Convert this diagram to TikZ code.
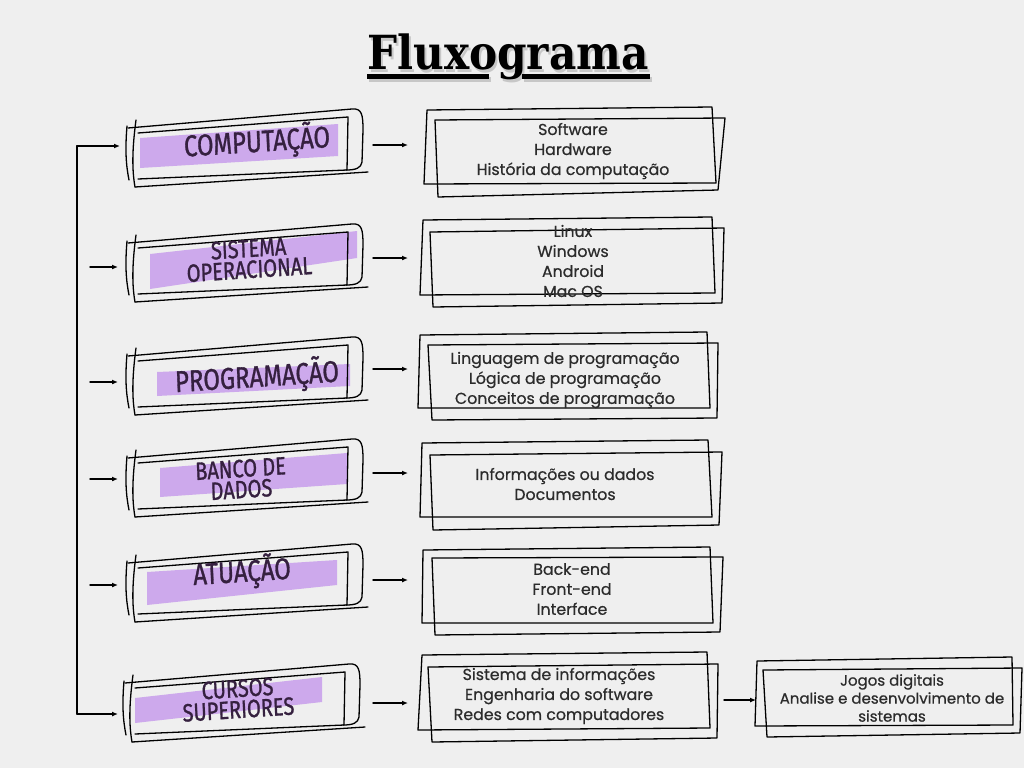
\documentclass[tikz,border=0pt]{standalone}
\usepackage{fontspec}
\setmainfont{Poppins}
\newfontfamily\itemfont{Poppins}[FakeBold=0.6]
\newfontfamily\titlefont{DejaVu Serif}
\newfontfamily\handfont{Fira Sans}[FakeBold=1.2]
\usetikzlibrary{arrows.meta}
\definecolor{bg}{HTML}{EFEFEF}
\definecolor{lav}{HTML}{CDA9EC}
\definecolor{ink}{HTML}{35203F}
\definecolor{txt}{HTML}{2B2B2B}
\tikzset{
  sk/.style={draw=black, line width=1.3pt},
  arr/.style={line width=1.4pt, -{Latex[length=6pt,width=5pt]}},
  lbl/.style={text=ink, font=\handfont\fontsize{30}{24}\selectfont, align=center, xscale=0.8, inner sep=0pt, rotate=3},
  lbltwo/.style={text=ink, font=\handfont\fontsize{25}{21}\selectfont, align=center, xscale=0.8, inner sep=0pt, rotate=3},
  itm/.style={text=txt, font=\itemfont\fontsize{15.8}{20}\selectfont, align=center, inner sep=0pt},
  itms/.style={text=txt, font=\itemfont\fontsize{15}{18}\selectfont, align=center, inner sep=0pt},
  holder/.style={minimum width=240pt, minimum height=70pt, inner sep=0pt},
  sketch/.pic={
    \draw[sk] (-120,-22) -- (104,-41) .. controls (114,-42) and (115,-35) .. (115,-20) -- (114,12) .. controls (113,18) and (108,20) .. (98,20);
    \draw[sk] (-110,-17) -- (100,-33) -- (99,20) -- (-110,29);
    \draw[sk] (-113,37) -- (120,22);
    \draw[sk] (-112,-30) .. controls (-116,0) and (-116,20) .. (-113,37);
    \draw[sk] (-121,-24) .. controls (-123,0) and (-122,15) .. (-119,30);
  }
}
\begin{document}
\begin{tikzpicture}[x=1pt,y=-1pt, line cap=round, line join=round]
\fill[bg] (0,0) rectangle (1024,768);
\useasboundingbox (0,0) rectangle (1024,768);

% title
\node[text=black!22, font=\titlefont\bfseries\fontsize{47}{47}\selectfont, xscale=0.9, anchor=base] (tshadow) at (510,72) {Fluxograma};
\fill[black!22] (369,77) rectangle (491,82);
\fill[black!22] (524,77) rectangle (652,82);
\node[text=black, font=\titlefont\bfseries\fontsize{47}{47}\selectfont, xscale=0.9, anchor=base] (title) at (508,70) {Fluxograma};
\fill[black] (367,74) rectangle (489,79);
\fill[black] (522,74) rectangle (650,79);

% left sketch boxes: highlights
\fill[lav] (140,138) -- (338,124) -- (338,156) -- (140,168) -- cycle;
\fill[lav] (150,254) -- (357,231) -- (357,258) -- (150,289) -- cycle;
\fill[lav] (157,372) -- (350,364) -- (350,386) -- (157,396) -- cycle;
\fill[lav] (160,468) -- (347,453) -- (347,484) -- (160,497) -- cycle;
\fill[lav] (147,572) -- (337,560) -- (337,585) -- (147,605) -- cycle;
\fill[lav] (135,698) -- (322,677) -- (322,702) -- (135,723) -- cycle;

\pic at (248,150) {sketch};
\pic at (248,265) {sketch};
\pic at (248,378) {sketch};
\pic at (248,480) {sketch};
\pic at (248,585) {sketch};
\pic at (245,705) {sketch};

\node[holder] (L1) at (248,150) {};
\node[holder] (L2) at (248,265) {};
\node[holder] (L3) at (248,378) {};
\node[holder] (L4) at (248,480) {};
\node[holder] (L5) at (248,585) {};
\node[holder] (L6) at (245,705) {};

\node[lbl] (t1) at (257,142) {COMPUTAÇÃO};
\node[lbltwo] (t2) at (249,259) {SISTEMA\\OPERACIONAL};
\node[lbl] (t3) at (257,377) {PROGRAMAÇÃO};
\node[lbltwo] (t4) at (241,479) {BANCO DE\\DADOS};
\node[lbl] (t5) at (242,572) {ATUAÇÃO};
\node[lbltwo] (t6) at (238,699) {CURSOS\\SUPERIORES};

% right boxes (double sketched frames)
\draw[sk] (427,110) -- (712,107) -- (716,183) -- (424,184) -- cycle;
\draw[sk] (435,120) -- (725,118) -- (718,190) -- (438,197) -- cycle;
\draw[sk] (423,220) -- (712,217) -- (715,293) -- (420,295) -- cycle;
\draw[sk] (430,232) -- (724,228) -- (722,303) -- (433,307) -- cycle;
\draw[sk] (420,335) -- (707,332) -- (710,408) -- (418,408) -- cycle;
\draw[sk] (428,345) -- (718,343) -- (717,418) -- (432,420) -- cycle;
\draw[sk] (422,443) -- (708,440) -- (712,517) -- (420,517) -- cycle;
\draw[sk] (430,455) -- (722,452) -- (719,525) -- (433,530) -- cycle;
\draw[sk] (423,550) -- (710,547) -- (713,623) -- (422,623) -- cycle;
\draw[sk] (432,558) -- (723,557) -- (720,632) -- (435,635) -- cycle;
\draw[sk] (422,655) -- (707,652) -- (710,728) -- (418,730) -- cycle;
\draw[sk] (428,667) -- (718,664) -- (717,738) -- (432,742) -- cycle;
\draw[sk] (757,661) -- (1012,657) -- (1013,725) -- (755,726) -- cycle;
\draw[sk] (763,670) -- (1022,668) -- (1020,733) -- (767,737) -- cycle;

\node[itm] (R1) at (573,151) {Software\\Hardware\\História da computação};
\node[itm] (R2) at (573,261) {Linux\\Windows\\Android\\Mac OS};
\node[itm] (R3) at (565,380) {Linguagem de programação\\Lógica de programação\\Conceitos de programação};
\node[itm] (R4) at (565,484) {Informações ou dados\\Documentos};
\node[itm] (R5) at (572,589) {Back-end\\Front-end\\Interface};
\node[itm] (R6) at (559,696) {Sistema de informações\\Engenharia do software\\Redes com computadores};
\node[itms] (R7) at (892,698) {Jogos digitais\\Analise e desenvolvimento de\\sistemas};

% connector endpoints
\coordinate (spineTop) at (77,146);
\coordinate (spineBot) at (77,714);
\coordinate (in1) at (120,146);
\coordinate (in6) at (118,714);
\coordinate (s2) at (90,267);  \coordinate (in2) at (118,267);
\coordinate (s3) at (90,382);  \coordinate (in3) at (118,382);
\coordinate (s4) at (90,479);  \coordinate (in4) at (118,479);
\coordinate (s5) at (90,585);  \coordinate (in5) at (118,585);
\coordinate (m1a) at (373,145); \coordinate (m1b) at (408,145);
\coordinate (m2a) at (373,258); \coordinate (m2b) at (408,258);
\coordinate (m3a) at (373,369); \coordinate (m3b) at (408,369);
\coordinate (m4a) at (373,473); \coordinate (m4b) at (408,473);
\coordinate (m5a) at (373,580); \coordinate (m5b) at (408,580);
\coordinate (m6a) at (373,703); \coordinate (m6b) at (408,703);
\coordinate (m7a) at (724,700); \coordinate (m7b) at (756,700);

\draw[arr] (spineBot) -- (spineTop) -- (in1);
\draw[arr] (spineTop) -- (spineBot) -- (in6);
\draw[arr] (s2) -- (in2);
\draw[arr] (s3) -- (in3);
\draw[arr] (s4) -- (in4);
\draw[arr] (s5) -- (in5);
\draw[arr] (m1a) -- (m1b);
\draw[arr] (m2a) -- (m2b);
\draw[arr] (m3a) -- (m3b);
\draw[arr] (m4a) -- (m4b);
\draw[arr] (m5a) -- (m5b);
\draw[arr] (m6a) -- (m6b);
\draw[arr] (m7a) -- (m7b);
\end{tikzpicture}
\end{document}
